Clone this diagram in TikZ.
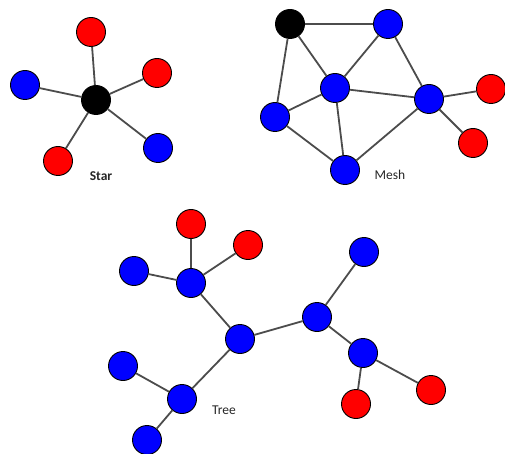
\documentclass[tikz,border=0pt]{standalone}
\usepackage{fontspec}
\setmainfont{Carlito}
\begin{document}
\begin{tikzpicture}[x=1pt,y=-1pt,
  nd/.style={circle,draw=black,line width=0.9pt,minimum size=29pt,inner sep=0pt},
  bl/.style={nd,fill=blue},
  rd/.style={nd,fill=red},
  bk/.style={nd,fill=black},
  ed/.style={draw=black!70,line width=1.8pt},
  lb/.style={font=\fontsize{13.5}{15}\selectfont\bfseries,text=black!85},
  lr/.style={font=\fontsize{13.5}{15}\selectfont,text=black!85}]
\useasboundingbox (0,0) rectangle (505,454);
% Star
\node[bk] (s0) at (96,100) {};
\node[rd] (s1) at (91,32) {};
\node[rd] (s2) at (157,73) {};
\node[bl] (s3) at (25,85) {};
\node[bl] (s4) at (158,148) {};
\node[rd] (s5) at (58,161) {};
\foreach \t in {s1,s2,s3,s4,s5} \draw[ed] (s0) -- (\t);
\node[lb] (lstar) at (101,176) {Star};
% Mesh
\node[bk] (m1) at (290,24) {};
\node[bl] (m2) at (388,24) {};
\node[bl] (m3) at (335,88) {};
\node[bl] (m4) at (275,117) {};
\node[bl] (m5) at (429,99) {};
\node[bl] (m6) at (345,170) {};
\node[rd] (m7) at (491,89) {};
\node[rd] (m8) at (473,143) {};
\foreach \a/\b in {m1/m2,m1/m4,m1/m3,m2/m3,m2/m5,m3/m4,m3/m5,m3/m6,m4/m6,m6/m5,m5/m7,m5/m8}
  \draw[ed] (\a) -- (\b);
\node[lr] (lmesh) at (390,175) {Mesh};
% Tree
\node[rd] (t1) at (191,224) {};
\node[rd] (t2) at (248,245) {};
\node[bl] (t3) at (134,271) {};
\node[bl] (t4) at (191,283) {};
\node[bl] (t5) at (240,339) {};
\node[bl] (t6) at (317,317) {};
\node[bl] (t7) at (364,252) {};
\node[bl] (t8) at (363,353) {};
\node[rd] (t9) at (431,390) {};
\node[rd] (t10) at (356,404) {};
\node[bl] (t11) at (123,366) {};
\node[bl] (t12) at (182,399) {};
\node[bl] (t13) at (147,440) {};
\foreach \a/\b in {t1/t4,t2/t4,t3/t4,t4/t5,t5/t6,t6/t7,t6/t8,t8/t9,t8/t10,t5/t12,t12/t11,t12/t13}
  \draw[ed] (\a) -- (\b);
\node[lr] (ltree) at (224,410) {Tree};
\end{tikzpicture}
\end{document}
